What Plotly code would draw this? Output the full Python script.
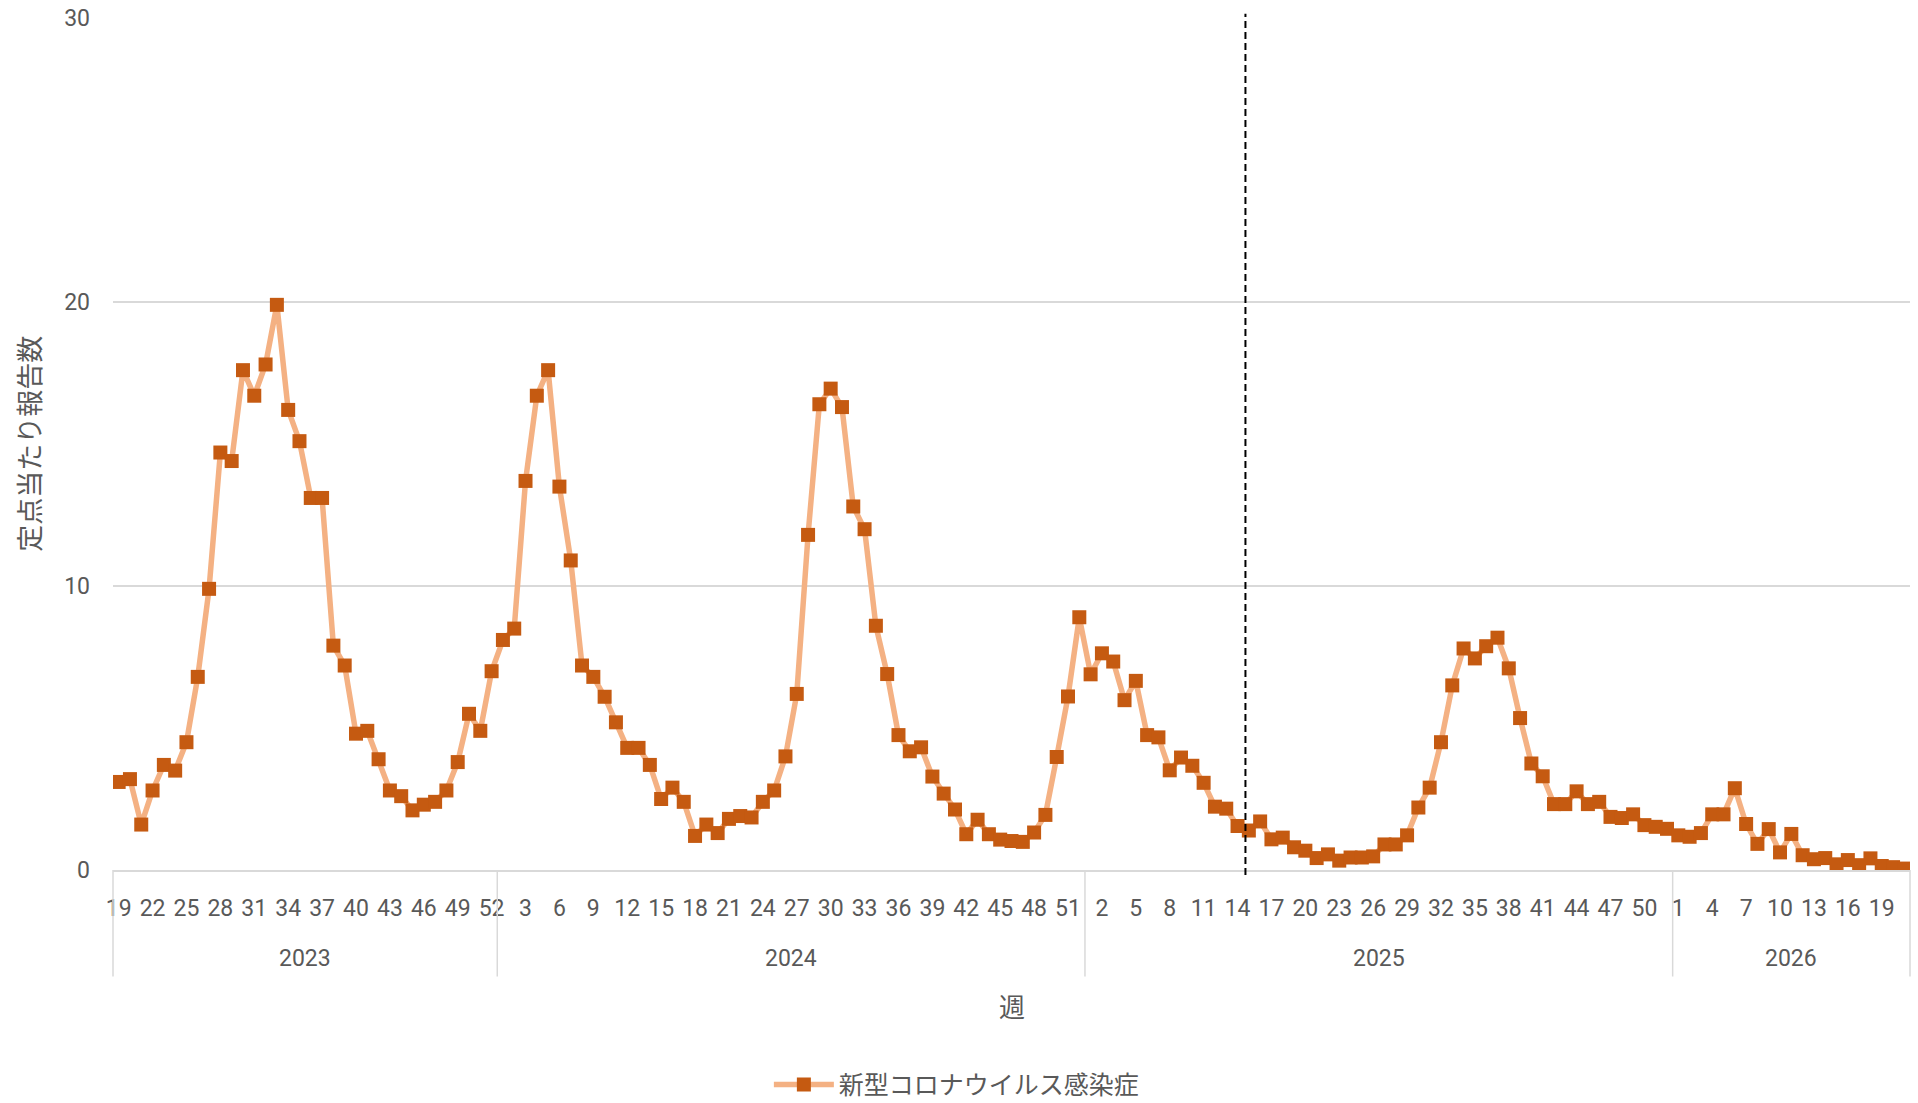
import plotly.graph_objects as go

# ---------------- data ----------------
YEARS = [2023, 2024, 2025, 2026]

weeks_2023 = list(range(19, 53))
weeks_2024 = list(range(1, 53))
weeks_2025 = list(range(1, 53))
weeks_2026 = list(range(1, 22))

values_2023 = [3.1, 3.2, 1.6, 2.8, 3.7, 3.5, 4.5, 6.8, 9.9, 14.7,
               14.4, 17.6, 16.7, 17.8, 19.9, 16.2, 15.1, 13.1, 13.1, 7.9,
               7.2, 4.8, 4.9, 3.9, 2.8, 2.6, 2.1, 2.3, 2.4, 2.8,
               3.8, 5.5, 4.9, 7.0]
values_2024 = [8.1, 8.5, 13.7, 16.7, 17.6, 13.5, 10.9, 7.2, 6.8, 6.1,
               5.2, 4.3, 4.3, 3.7, 2.5, 2.9, 2.4, 1.2, 1.6, 1.3,
               1.8, 1.9, 1.85, 2.4, 2.8, 4.0, 6.2, 11.8, 16.4, 16.95,
               16.3, 12.8, 12.0, 8.6, 6.9, 4.75, 4.18, 4.32, 3.29, 2.69,
               2.13, 1.26, 1.77, 1.26, 1.07, 1.02, 0.99, 1.32, 1.94, 3.98,
               6.11, 8.90]
values_2025 = [6.89, 7.63, 7.34, 5.98, 6.66, 4.75, 4.67, 3.51, 3.96, 3.67,
               3.07, 2.23, 2.16, 1.55, 1.39, 1.71, 1.08, 1.14, 0.8, 0.68,
               0.42, 0.55, 0.33, 0.44, 0.44, 0.48, 0.9, 0.9, 1.22, 2.2,
               2.9, 4.5, 6.5, 7.8, 7.45, 7.88, 8.18, 7.1, 5.35, 3.75,
               3.3, 2.32, 2.32, 2.77, 2.32, 2.4, 1.87, 1.83, 1.96, 1.58,
               1.52, 1.45]
values_2026 = [1.22, 1.17, 1.3, 1.96, 1.96, 2.88, 1.62, 0.92, 1.44, 0.62,
               1.27, 0.52, 0.38, 0.42, 0.2, 0.35, 0.17, 0.41, 0.14, 0.1,
               0.05]

SERIES_NAME = "新型コロナウイルス感染症"
Y_TITLE = "定点当たり報告数"
X_TITLE = "週"
Y_TICKS = [0, 10, 20, 30]
CUTOFF_POS = 99.7   # category position of the dashed vertical marker (between 2025 w14 and w15)

# ---------------- assemble ----------------
weeks_by_year = [weeks_2023, weeks_2024, weeks_2025, weeks_2026]
values_by_year = [values_2023, values_2024, values_2025, values_2026]

weeks_all, values_all = [], []
for w, v in zip(weeks_by_year, values_by_year):
    weeks_all += w
    values_all += v
n = len(values_all)
x_idx = list(range(n))

tickvals = x_idx[::3]
ticktext = [str(weeks_all[i]) for i in tickvals]

GRAY = "#595959"
GRID = "#d9d9d9"
NUM_FONT = "Roboto"
JP_FONT = "Noto Sans CJK JP"

fig = go.Figure()
fig.add_trace(go.Scatter(
    x=x_idx, y=values_all, name=SERIES_NAME, mode="lines+markers",
    line=dict(color="#F4B183", width=5.5),
    marker=dict(symbol="square", size=14, color="#C55A11", line=dict(width=0)),
))

# year group dividers and labels below the axis
shapes = []
annotations = []
start = 0
bounds = [0]
for yr, w in zip(YEARS, weeks_by_year):
    end = start + len(w)
    bounds.append(end)
    annotations.append(dict(
        x=(start + end) / 2 / n, xref="paper", y=-0.104, yref="paper",
        text=str(yr), showarrow=False, xanchor="center", yanchor="middle",
        font=dict(family=NUM_FONT, size=23, color=GRAY)))
    start = end
for b in bounds:
    shapes.append(dict(type="line", xref="paper", yref="paper",
                       x0=b / n, x1=b / n, y0=0, y1=-0.125,
                       line=dict(color=GRID, width=1.5)))

# dashed marker line
cx = (CUTOFF_POS + 0.5) / n
shapes.append(dict(type="line", xref="paper", yref="paper", x0=cx, x1=cx,
                   y0=-0.006, y1=1.005, layer="above",
                   line=dict(color="black", width=2, dash="7px,4px")))

annotations.append(dict(x=0.5, xref="paper", y=-0.159, yref="paper", text=X_TITLE,
                        showarrow=False, xanchor="center", yanchor="middle",
                        font=dict(family=JP_FONT, size=26, color=GRAY)))
annotations.append(dict(x=-0.0475, xref="paper", y=0.5, yref="paper", text=Y_TITLE,
                        textangle=-90, showarrow=False, xanchor="center", yanchor="middle",
                        font=dict(family=JP_FONT, size=27, color=GRAY)))

fig.update_layout(
    width=1918, height=1103,
    margin=dict(l=113, r=8, t=18, b=233, autoexpand=False),
    plot_bgcolor="white", paper_bgcolor="white",
    shapes=shapes, annotations=annotations,
    showlegend=True,
    legend=dict(orientation="h", x=0.4696, xanchor="center", y=-0.252, yanchor="middle",
                itemwidth=60,
                font=dict(family=JP_FONT, size=25, color=GRAY), bgcolor="rgba(0,0,0,0)"),
    xaxis=dict(range=[-0.5, n - 0.5], tickvals=tickvals, ticktext=ticktext,
               showgrid=False, zeroline=False, showline=True, linecolor=GRID, linewidth=1.5,
               ticks="", ticklabelstandoff=17,
               tickfont=dict(family=NUM_FONT, size=23, color=GRAY)),
    yaxis=dict(range=[0, 30], tickvals=Y_TICKS, showgrid=True, gridcolor=GRID, gridwidth=1.5,
               zeroline=False, showline=False, ticks="", ticklabelstandoff=22,
               tickfont=dict(family=NUM_FONT, size=23, color=GRAY)),
)

fig.write_html("out.html", config={"displayModeBar": False},
               post_script="document.body.style.margin='0';document.body.style.overflow='hidden';")
